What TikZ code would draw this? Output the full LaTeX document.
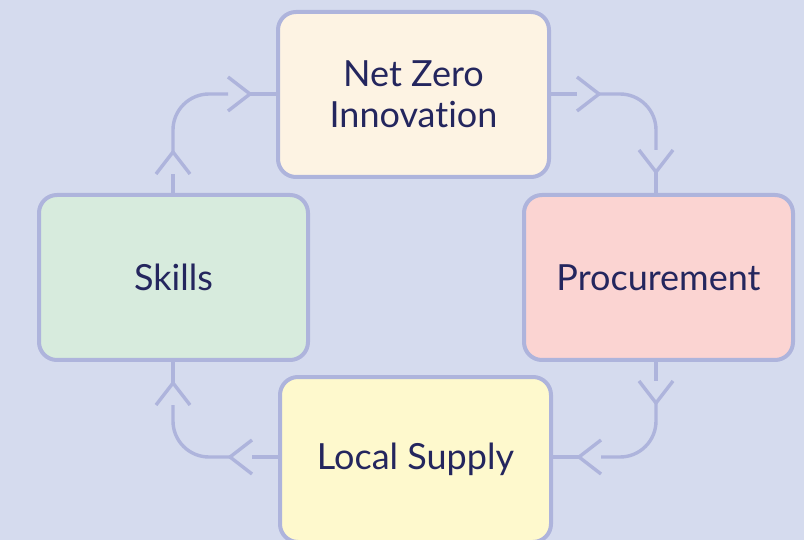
\documentclass[tikz,border=0pt]{standalone}
\usepackage{fontspec}
\setmainfont{Lato}[Ligatures={NoCommon,NoRequired,NoContextual}]
\usetikzlibrary{calc}

\definecolor{bgcol}{HTML}{D5DBEE}
\definecolor{edgecol}{HTML}{AEB4DC}
\definecolor{txtcol}{HTML}{24265E}
\definecolor{fillnz}{HTML}{FDF3E3}
\definecolor{fillsk}{HTML}{D7EBDD}
\definecolor{fillpr}{HTML}{FBD4D2}
\definecolor{fillls}{HTML}{FEF9CD}

\tikzset{
  stage/.style={draw=edgecol, line width=4pt, rounded corners=18pt,
    minimum height=165pt, inner sep=0pt, text=txtcol,
    font=\fontsize{36}{41}\selectfont, align=center},
  link/.style={draw=edgecol, line width=3.4pt},
  curvelink/.style={link, rounded corners=36pt},
}

\begin{document}
\begin{tikzpicture}[x=1pt, y=-1pt]
  % canvas
  \fill[bgcol] (0,0) rectangle (804,540);
  \useasboundingbox (0,0) rectangle (804,540);

  % stages of the cycle
  \node[stage, fill=fillnz, minimum width=271pt] (nz) at (413.5,94.5) {Net Zero\\Innovation};
  \node[stage, fill=fillsk, minimum width=269pt] (sk) at (173.5,277.5) {Skills};
  \node[stage, fill=fillpr, minimum width=269pt] (pr) at (658.5,277.5) {Procurement};
  \node[stage, fill=fillls, minimum width=271pt] (ls) at (415.5,459.5) {Local Supply};

  % attachment points of the links
  \coordinate (skT) at ($(sk.north)+(-0.5,0)$);
  \coordinate (skB) at ($(sk.south)+(-0.5,0)$);
  \coordinate (nzW) at ($(nz.west)+(0,-0.5)$);
  \coordinate (nzE) at ($(nz.east)+(0,-0.5)$);
  \coordinate (prT) at ($(pr.north)+(-2.5,0)$);
  \coordinate (prB) at ($(pr.south)+(-2.5,0)$);
  \coordinate (lsW) at ($(ls.west)+(0,-2.5)$);
  \coordinate (lsE) at ($(ls.east)+(0,-2.5)$);

  % Skills -> Net Zero Innovation
  \coordinate (s1) at ($(skT)+(0,-41)$);
  \coordinate (e1) at ($(nzW)+(-26,0)$);
  \draw[link] (skT) -- ++(0,-19);
  \draw[link] ($(s1)+(-17,22)$) -- (s1) -- ($(s1)+(17,22)$);
  \draw[curvelink] (s1) -- (skT |- nzW) -- ($(e1)+(-22,0)$);
  \draw[link] ($(e1)+(-22,-17)$) -- (e1) -- ($(e1)+(-22,17)$);
  \draw[link] (e1) -- (nzW);

  % Net Zero Innovation -> Procurement
  \coordinate (s2) at ($(nzE)+(48,0)$);
  \coordinate (e2) at ($(prT)+(0,-21)$);
  \draw[link] (nzE) -- ++(26,0);
  \draw[link] ($(s2)+(-22,-17)$) -- (s2) -- ($(s2)+(-22,17)$);
  \draw[curvelink] (s2) -- (nzE -| prT) -- ($(e2)+(0,-22)$);
  \draw[link] ($(e2)+(-17,-22)$) -- (e2) -- ($(e2)+(17,-22)$);
  \draw[link] (e2) -- (prT);

  % Procurement -> Local Supply
  \coordinate (s3) at ($(prB)+(0,41)$);
  \coordinate (e3) at ($(lsE)+(26,0)$);
  \draw[link] (prB) -- ++(0,19);
  \draw[link] ($(s3)+(-17,-22)$) -- (s3) -- ($(s3)+(17,-22)$);
  \draw[curvelink] (s3) -- (prB |- lsE) -- ($(e3)+(22,0)$);
  \draw[link] ($(e3)+(22,-17)$) -- (e3) -- ($(e3)+(22,17)$);
  \draw[link] (e3) -- (lsE);

  % Local Supply -> Skills
  \coordinate (s4) at ($(lsW)+(-48,0)$);
  \coordinate (e4) at ($(skB)+(0,21)$);
  \draw[link] (lsW) -- ++(-26,0);
  \draw[link] ($(s4)+(22,-17)$) -- (s4) -- ($(s4)+(22,17)$);
  \draw[curvelink] (s4) -- (lsW -| skB) -- ($(e4)+(0,22)$);
  \draw[link] ($(e4)+(-17,22)$) -- (e4) -- ($(e4)+(17,22)$);
  \draw[link] (e4) -- (skB);
\end{tikzpicture}
\end{document}
